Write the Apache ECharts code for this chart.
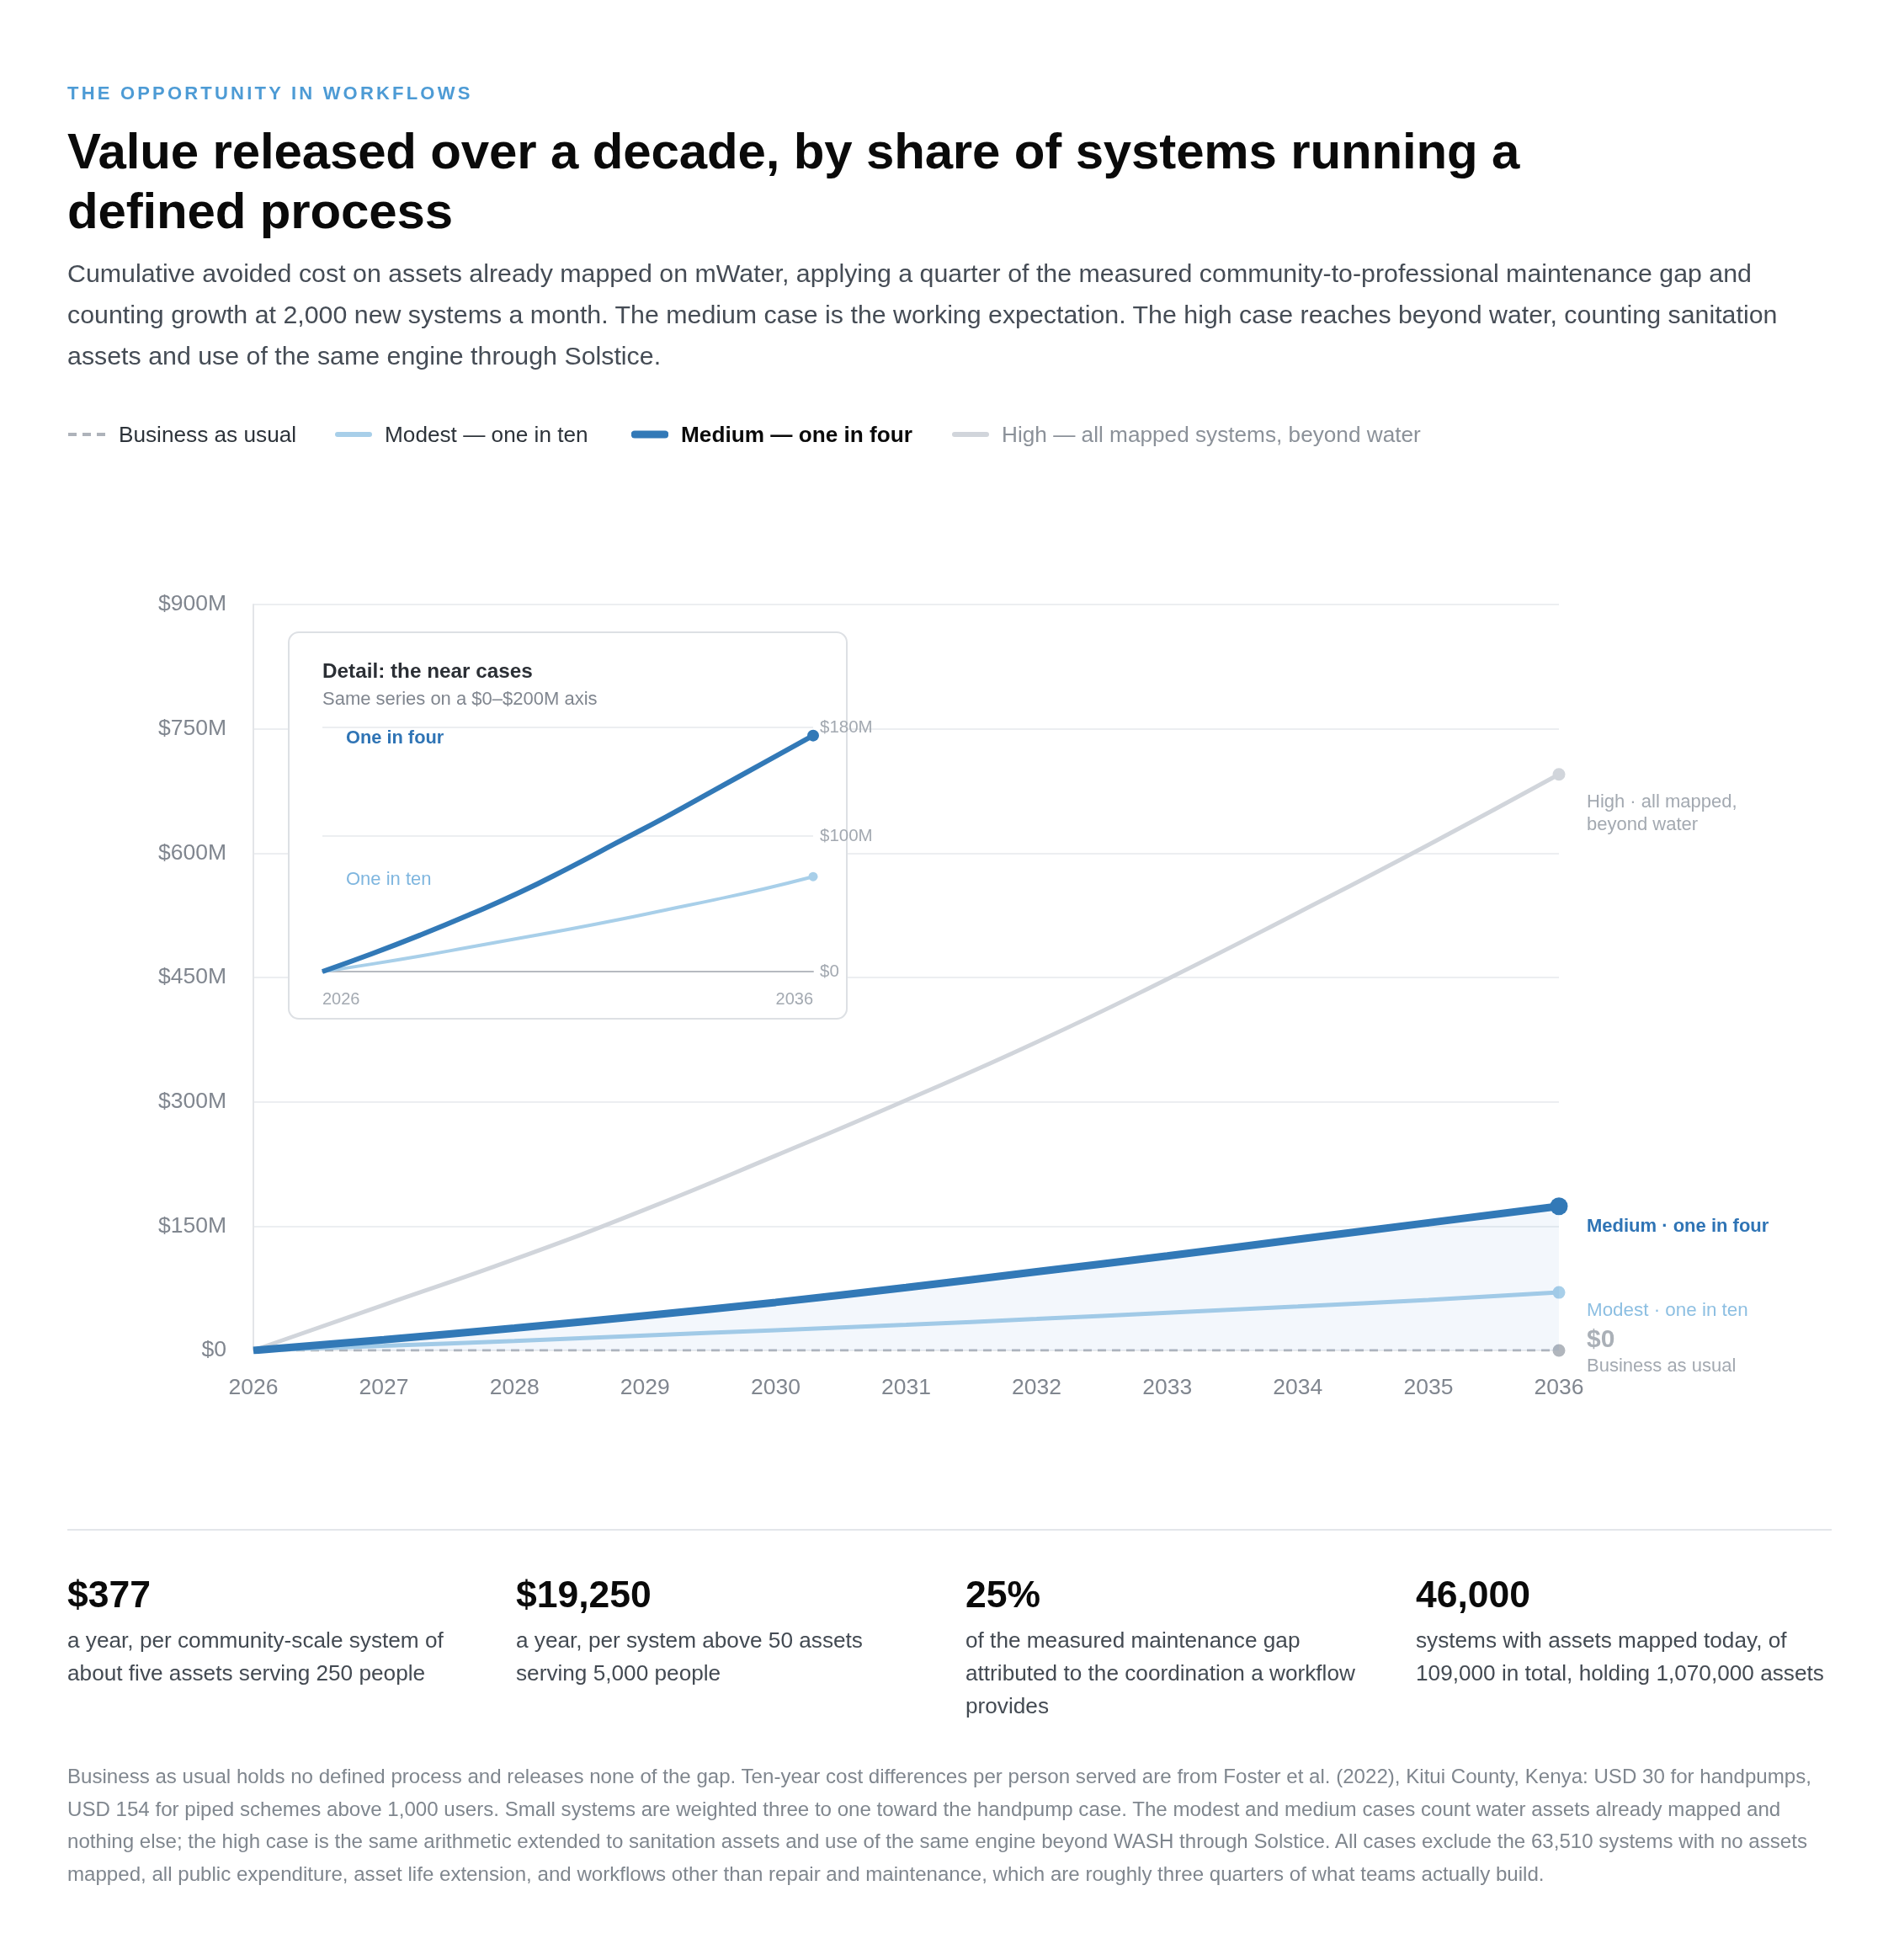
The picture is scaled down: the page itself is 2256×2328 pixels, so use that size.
<!DOCTYPE html>
<html>
<head>
<meta charset="utf-8">
<script src="https://cdn.jsdelivr.net/npm/echarts@6/dist/echarts.min.js"></script>
<style>
  html, body { margin: 0; padding: 0; background: #fff; }
  body { width: 2256px; height: 2328px; position: relative; overflow: hidden;
         font-family: "Liberation Sans", Arial, Helvetica, sans-serif; }
  #chart { position: absolute; left: 0; top: 0; width: 2256px; height: 2328px; }
  .t { position: absolute; white-space: nowrap; z-index: 2; }
  .kicker { left: 80px; top: 96px; line-height: 30px; font-size: 22px; font-weight: bold;
            letter-spacing: 3.2px; color: #4d9bd5; }
  .title { left: 80px; top: 144px; line-height: 71px; font-size: 60px; font-weight: bold; color: #0a0a0a;
           letter-spacing: -0.15px; }
  .sub { left: 80px; top: 300px; line-height: 49px; font-size: 30.35px; color: #454c55; }
  .legend { left: 80px; top: 498px; height: 36px; font-size: 26.2px; line-height: 36px; color: #2d333a; }
  .legend span, .legend svg { position: absolute; top: 0; }
  .rule { position: absolute; left: 80px; top: 1816px; width: 2096px; height: 2px; background: #e3e6ea; }
  .num { top: 1870px; line-height: 48px; font-size: 44.5px; font-weight: bold; color: #0a0a0a; }
  .desc { top: 1929px; line-height: 39px; font-size: 26.2px; color: #434a52; }
  .foot { left: 80px; top: 2091px; line-height: 38.7px; font-size: 24.1px; color: #7f868e; }
</style>
</head>
<body>
<div id="chart"></div>

<div class="t kicker">THE OPPORTUNITY IN WORKFLOWS</div>
<div class="t title">Value released over a decade, by share of systems running a<br>defined process</div>
<div class="t sub">Cumulative avoided cost on assets already mapped on mWater, applying a quarter of the measured community-to-professional maintenance gap and<br>counting growth at 2,000 new systems a month. The medium case is the working expectation. The high case reaches beyond water, counting sanitation<br>assets and use of the same engine through Solstice.</div>

<div class="t legend">
  <svg style="left:0" width="46" height="36"><line x1="1" y1="18" x2="45" y2="18" stroke="#aeb3ba" stroke-width="4" stroke-dasharray="10,7"/></svg>
  <span style="left:61px">Business as usual</span>
  <svg style="left:318px" width="44" height="36"><line x1="3" y1="18" x2="41" y2="18" stroke="#a8cfe9" stroke-width="6" stroke-linecap="round"/></svg>
  <span style="left:377px">Modest — one in ten</span>
  <svg style="left:670px" width="44" height="36"><line x1="4" y1="18" x2="40" y2="18" stroke="#3279b7" stroke-width="9" stroke-linecap="round"/></svg>
  <span style="left:729px;font-weight:bold;color:#0a0a0a">Medium — one in four</span>
  <svg style="left:1051px" width="44" height="36"><line x1="3" y1="18" x2="41" y2="18" stroke="#d1d5db" stroke-width="6" stroke-linecap="round"/></svg>
  <span style="left:1110px;color:#8b9199">High — all mapped systems, beyond water</span>
</div>

<div class="rule"></div>
<div class="t num" style="left:80px">$377</div>
<div class="t desc" style="left:80px">a year, per community-scale system of<br>about five assets serving 250 people</div>
<div class="t num" style="left:613px">$19,250</div>
<div class="t desc" style="left:613px">a year, per system above 50 assets<br>serving 5,000 people</div>
<div class="t num" style="left:1147px">25%</div>
<div class="t desc" style="left:1147px">of the measured maintenance gap<br>attributed to the coordination a workflow<br>provides</div>
<div class="t num" style="left:1682px">46,000</div>
<div class="t desc" style="left:1682px">systems with assets mapped today, of<br>109,000 in total, holding 1,070,000 assets</div>

<div class="t foot">Business as usual holds no defined process and releases none of the gap. Ten-year cost differences per person served are from Foster et al. (2022), Kitui County, Kenya: USD 30 for handpumps,<br>USD 154 for piped schemes above 1,000 users. Small systems are weighted three to one toward the handpump case. The modest and medium cases count water assets already mapped and<br>nothing else; the high case is the same arithmetic extended to sanitation assets and use of the same engine beyond WASH through Solstice. All cases exclude the 63,510 systems with no assets<br>mapped, all public expenditure, asset life extension, and workflows other than repair and maintenance, which are roughly three quarters of what teams actually build.</div>

<script>
// years on the x axis
var years = ['2026', '2027', '2028', '2029', '2030', '2031', '2032', '2033', '2034', '2035', '2036'];
// cumulative value released, $M
var businessAsUsual = [0, 0, 0, 0, 0, 0, 0, 0, 0, 0, 0];
var modestOneInTen = [0, 5.5, 11.5, 18, 24.5, 31, 38, 45.5, 53, 61, 70];
var mediumOneInFour = [0, 13, 27, 42, 58, 76, 95, 114, 134, 154, 174];
var highAllMapped = [0, 55, 110, 170, 235, 302, 372, 448, 528, 610, 695];
// axis ticks
var mainTicks = [0, 150, 300, 450, 600, 750, 900];
var insetTicks = [0, 100, 180];

var FONT = '"Liberation Sans", Arial, Helvetica, sans-serif';
var last = years.length - 1;

// dot only on the last point of a line
function endDot (size) {
  return function (v, p) { return p.dataIndex === last ? size : 0 };
}

function money (v) {
  return v === 0 ? '$0' : '$' + v + 'M';
}

var chart = echarts.init(document.getElementById('chart'), null, { renderer: 'canvas' });

var option = {
  animation: false,
  textStyle: { fontFamily: FONT },
  grid: [
    { left: 301, top: 718, width: 1551, height: 886 },
    { left: 383, top: 864, width: 583, height: 290 }
  ],
  xAxis: [
    {
      type: 'category',
      gridIndex: 0,
      data: years,
      boundaryGap: false,
      axisLine: { show: false },
      axisTick: { show: false },
      axisLabel: { margin: 31, fontSize: 26.5, color: '#80868f', fontFamily: FONT }
    },
    {
      type: 'category',
      gridIndex: 1,
      data: years,
      boundaryGap: false,
      z: 3,
      axisLine: { show: true, lineStyle: { color: '#b6bac0', width: 2 } },
      axisTick: { show: false },
      axisLabel: {
        interval: 9, margin: 23, fontSize: 20, color: '#a3a9b1', fontFamily: FONT,
        alignMinLabel: 'left', alignMaxLabel: 'right'
      }
    }
  ],
  yAxis: [
    {
      type: 'value',
      gridIndex: 0,
      min: mainTicks[0],
      max: mainTicks[mainTicks.length - 1],
      interval: mainTicks[1] - mainTicks[0],
      axisLine: { show: true, lineStyle: { color: '#e3e5e8', width: 2 } },
      axisTick: { show: false },
      splitLine: { lineStyle: { color: '#eceef1', width: 2 } },
      axisLabel: {
        margin: 32, fontSize: 26.5, color: '#80868f', fontFamily: FONT,
        formatter: money
      }
    },
    {
      type: 'value',
      gridIndex: 1,
      position: 'right',
      min: 0,
      max: insetTicks[insetTicks.length - 1],
      interval: 20,
      z: 3,
      axisLine: { show: false },
      axisTick: { show: false },
      splitLine: { show: false },
      axisLabel: {
        margin: 8, fontSize: 20.5, color: '#a3a9b1', fontFamily: FONT,
        formatter: function (v) {
          return insetTicks.indexOf(v) < 0 ? '' : money(v);
        }
      }
    }
  ],
  graphic: [
    {
      type: 'rect', z: 1, silent: true,
      shape: { x: 343, y: 751, width: 663, height: 459, r: 12 },
      style: { fill: '#ffffff', stroke: '#dde0e4', lineWidth: 2 }
    },
    {
      type: 'text', z: 5, left: 383, top: 786,
      style: { text: 'Detail: the near cases', fill: '#2b2f35', font: 'bold 24.3px ' + FONT }
    },
    {
      type: 'text', z: 5, left: 383, top: 820,
      style: { text: 'Same series on a $0–$200M axis', fill: '#80868f', font: '22px ' + FONT }
    },
    {
      type: 'text', z: 5, left: 411, top: 866,
      style: { text: 'One in four', fill: '#2f74b5', font: 'bold 21.8px ' + FONT }
    },
    {
      type: 'text', z: 5, left: 411, top: 1034,
      style: { text: 'One in ten', fill: '#7fb6df', font: '22px ' + FONT }
    }
  ],
  series: [
    {
      name: 'Business as usual',
      type: 'line',
      data: businessAsUsual,
      z: 2,
      symbol: 'circle',
      symbolSize: endDot(15),
      itemStyle: { color: '#b1b6bd' },
      lineStyle: { color: '#b1b6bd', width: 3, type: [10, 7] },
      endLabel: {
        show: true, distance: 33, offset: [0, 2],
        formatter: '{v|$0}\n{n|Business as usual}',
        rich: {
          v: { fontSize: 30, fontWeight: 'bold', color: '#aab0b7', lineHeight: 34, fontFamily: FONT },
          n: { fontSize: 22, color: '#a3a9b1', lineHeight: 28, fontFamily: FONT }
        }
      }
    },
    {
      name: 'High — all mapped systems, beyond water',
      type: 'line',
      data: highAllMapped,
      smooth: true,
      z: 2,
      symbol: 'circle',
      symbolSize: endDot(15),
      itemStyle: { color: '#d1d5db' },
      lineStyle: { color: '#d1d5db', width: 5 },
      endLabel: {
        show: true, distance: 33, offset: [0, 47],
        formatter: 'High · all mapped,\nbeyond water',
        fontSize: 22, lineHeight: 27, color: '#a3a9b1', fontFamily: FONT
      }
    },
    {
      name: 'Modest — one in ten',
      type: 'line',
      data: modestOneInTen,
      smooth: true,
      z: 3,
      symbol: 'circle',
      symbolSize: endDot(15),
      itemStyle: { color: '#a8cfe9' },
      lineStyle: { color: '#a8cfe9', width: 5 },
      endLabel: {
        show: true, distance: 33, offset: [0, 22],
        formatter: 'Modest · one in ten',
        fontSize: 22.4, color: '#8dbfe2', fontFamily: FONT
      }
    },
    {
      name: 'Medium — one in four',
      type: 'line',
      data: mediumOneInFour,
      smooth: true,
      z: 4,
      symbol: 'circle',
      symbolSize: endDot(21),
      itemStyle: { color: '#3279b7' },
      lineStyle: { color: '#3279b7', width: 9 },
      areaStyle: { color: 'rgba(66,133,214,0.09)', origin: 'start' },
      endLabel: {
        show: true, distance: 33, offset: [0, 24],
        formatter: 'Medium · one in four',
        fontSize: 22, fontWeight: 'bold', color: '#2f74b5', fontFamily: FONT
      }
    },
    {
      name: 'inset modest',
      type: 'line',
      xAxisIndex: 1,
      yAxisIndex: 1,
      data: modestOneInTen,
      smooth: true,
      z: 4,
      symbol: 'circle',
      symbolSize: endDot(11),
      itemStyle: { color: '#a8cfe9' },
      lineStyle: { color: '#a8cfe9', width: 4 },
      markLine: {
        silent: true, symbol: 'none', z: 3,
        label: { show: false },
        lineStyle: { color: '#eceef1', width: 2, type: 'solid' },
        data: [{ yAxis: insetTicks[1] }, { yAxis: insetTicks[2] }]
      }
    },
    {
      name: 'inset medium',
      type: 'line',
      xAxisIndex: 1,
      yAxisIndex: 1,
      data: mediumOneInFour,
      smooth: true,
      z: 5,
      symbol: 'circle',
      symbolSize: endDot(14),
      itemStyle: { color: '#3279b7' },
      lineStyle: { color: '#3279b7', width: 6 }
    }
  ]
};

chart.setOption(option);
</script>
</body>
</html>
